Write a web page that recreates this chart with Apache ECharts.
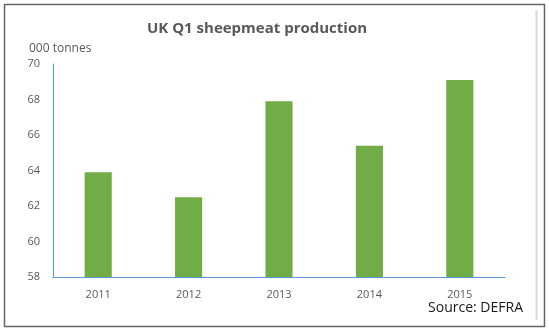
<!DOCTYPE html>
<html><head><meta charset="utf-8">
<script src="https://cdn.jsdelivr.net/npm/echarts@6/dist/echarts.min.js"></script>
<style>html,body{margin:0;padding:0;background:#fff}#c{width:549px;height:332px}</style>
</head><body><div id="c"></div>
<script>
var categories = ['2011', '2012', '2013', '2014', '2015'];
var production = [63.9, 62.5, 67.9, 65.4, 69.1];
var yTicks = [58, 60, 62, 64, 66, 68, 70];

var chart = echarts.init(document.getElementById('c'), null, {renderer: 'canvas'});
var font = '"Open Sans", "Liberation Sans", sans-serif';
chart.setOption({
  animation: false,
  backgroundColor: '#fff',
  title: {
    text: 'UK Q1 sheepmeat production',
    left: 252, top: 16, textAlign: 'center',
    textStyle: {fontFamily: font, fontSize: 15, fontWeight: 'bold', color: '#595959'}
  },
  grid: {left: 53, right: 44, top: 64, bottom: 55},
  xAxis: {
    type: 'category', data: categories,
    axisLine: {lineStyle: {color: '#5b9bd5', width: 1}},
    axisTick: {show: false},
    axisLabel: {fontFamily: font, fontSize: 11, color: '#595959', margin: 12}
  },
  yAxis: {
    type: 'value', min: yTicks[0], max: yTicks[yTicks.length - 1], interval: 2,
    axisLine: {show: true, lineStyle: {color: '#5b9bd5', width: 1}},
    axisTick: {show: false},
    splitLine: {show: false},
    axisLabel: {fontFamily: font, fontSize: 11, color: '#595959', margin: 13}
  },
  series: [{
    type: 'bar', data: production, barWidth: '30%',
    itemStyle: {color: '#70ad47'}
  }],
  graphic: [
    {type: 'rect', shape: {x: 4.5, y: 4.5, width: 540, height: 322}, style: {fill: 'none', stroke: '#666', lineWidth: 1.5}, silent: true},
    {type: 'line', shape: {x1: 536.5, y1: 10, x2: 536.5, y2: 320}, style: {stroke: '#d9d9d9', lineWidth: 2}, silent: true},
    {type: 'text', left: 29, top: 43, style: {text: '000 tonnes', fontFamily: font, fontSize: 12, fill: '#595959'}},
    {type: 'text', right: 26, top: 301, style: {text: 'Source: DEFRA', fontFamily: font, fontSize: 14, fill: '#1a1a1a'}}
  ]
});
</script></body></html>
